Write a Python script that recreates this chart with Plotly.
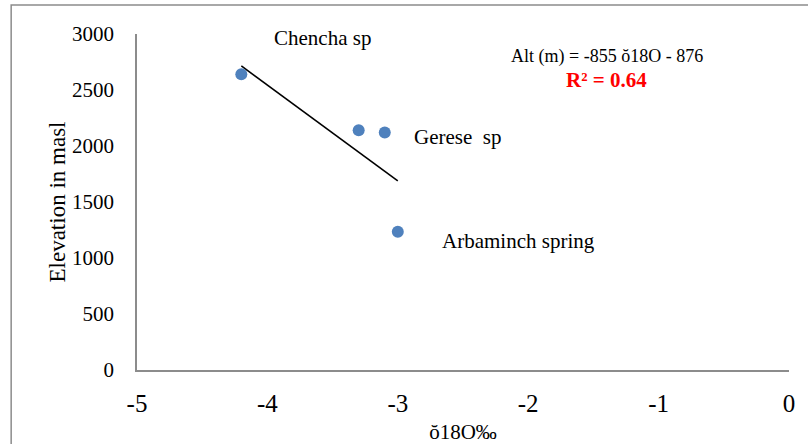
import plotly.graph_objects as go

# Spring samples: delta-18O (permil) vs. elevation (m a.s.l.)
d18o = [-4.2, -3.3, -3.1, -3.0]
elevation = [2640, 2140, 2120, 1235]

# Regression line Alt = slope * d18O + intercept
slope = -855
intercept = -876
fit_x = [min(d18o), max(d18o)]
fit_y = [slope * v + intercept for v in fit_x]

x_ticks = [-5, -4, -3, -2, -1, 0]
y_ticks = [0, 500, 1000, 1500, 2000, 2500, 3000]

serif = "Liberation Serif, Times New Roman, serif"

fig = go.Figure()
fig.add_trace(go.Scatter(x=fit_x, y=fit_y, mode="lines",
                         line=dict(color="black", width=1.6),
                         hoverinfo="skip", showlegend=False))
fig.add_trace(go.Scatter(x=d18o, y=elevation, mode="markers",
                         marker=dict(color="#4F81BD", size=12),
                         showlegend=False))

labels = [
    dict(x=-3.574, y=2964, text="Chencha sp", xanchor="center"),
    dict(x=-2.89, y=2080, text="Gerese  sp", xanchor="left"),
    dict(x=-2.676, y=1152, text="Arbaminch spring", xanchor="left"),
]
for a in labels:
    fig.add_annotation(x=a["x"], y=a["y"], text=a["text"], xanchor=a["xanchor"],
                       yanchor="middle", showarrow=False,
                       font=dict(family=serif, size=21, color="black"))

fig.add_annotation(x=-1.396, y=2795, text=f"Alt (m) = {slope} ŏ18O - {abs(intercept)}",
                   showarrow=False, xanchor="center", yanchor="middle",
                   font=dict(family=serif, size=18, color="black"))
fig.add_annotation(x=-1.396, y=2589, text="<b>R² = 0.64</b>",
                   showarrow=False, xanchor="center", yanchor="middle",
                   font=dict(family=serif, size=21, color="#FF0000"))

# Outer chart border
fig.add_shape(type="rect", xref="paper", yref="paper",
              x0=-0.193, x1=1.2, y0=-0.4, y1=1.086,
              line=dict(color="#8C8C8C", width=1.5), layer="below")

fig.update_xaxes(range=[-5, 0], tickvals=x_ticks, ticktext=[str(v) for v in x_ticks],
                 showgrid=False, zeroline=False, showline=True, automargin=False,
                 linecolor="#8C8C8C", linewidth=1.5, ticks="",
                 tickfont=dict(family=serif, size=25, color="black"),
                 ticklabelstandoff=10,
                 title=dict(text="ŏ18O‰", font=dict(family=serif, size=21, color="black"),
                            standoff=12))
fig.update_yaxes(range=[0, 3000], tickvals=y_ticks,
                 showgrid=False, zeroline=False, showline=True, automargin=False,
                 linecolor="#8C8C8C", linewidth=1.5, ticks="",
                 tickfont=dict(family=serif, size=21, color="black"),
                 ticklabelstandoff=17,
                 title=dict(text="Elevation in masl", font=dict(family=serif, size=23, color="black"),
                            standoff=0))

fig.update_layout(width=808, height=444,
                  margin=dict(l=137, r=19, t=34, b=74),
                  plot_bgcolor="white", paper_bgcolor="white")

fig.write_html("out.html")
